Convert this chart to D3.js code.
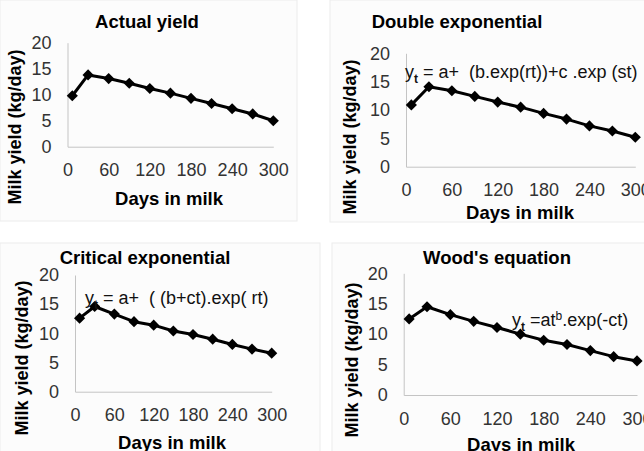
<!DOCTYPE html>
<html>
<head>
<meta charset="utf-8">
<script src="https://cdn.jsdelivr.net/npm/d3@7"></script>
<style>
  body { margin: 0; background: #fff; }
  svg { display: block; font-family: 'Liberation Sans', Arial, sans-serif; }
  .tick text { fill: #333; font-size: 18px; }
</style>
</head>
<body>
<svg id="chart" width="644" height="451"></svg>
<script>
// test days (days in milk)
var days = [7, 30, 60, 90, 120, 150, 180, 210, 240, 270, 300];
// milk yield, kg/day
var actualYield      = [9.8, 13.8, 13.1, 12.2, 11.2, 10.3, 9.3, 8.3, 7.3, 6.3, 5.0];
var doubleExpYield   = [10.9, 14.1, 13.4, 12.4, 11.4, 10.5, 9.4, 8.4, 7.2, 6.3, 5.2];
var criticalExpYield = [12.6, 14.6, 13.3, 12.0, 11.4, 10.4, 9.8, 9.0, 8.1, 7.3, 6.6];
var woodYield        = [12.5, 14.5, 13.2, 12.1, 11.1, 10.0, 9.0, 8.3, 7.3, 6.3, 5.6];

var xTicks = [0, 60, 120, 180, 240, 300];
var yTicks = [0, 5, 10, 15, 20];
var titles = ['Actual yield', 'Double exponential', 'Critical exponential', "Wood's equation"];
var xTitle = 'Days in milk';
var yTitle = 'Milk yield (kg/day)';

// equations as pieces: [text, 'sub'|'sup'|null]
var equations = [
    null,
    [['y', null], ['t', 'sub'], [' = a+  (b.exp(rt))+c .exp (st)', null]],
    [['y', null], ['t', 'sub'], [' = a+  ( (b+ct).exp( rt)', null]],
    [['y', null], ['t', 'sub'], [' =at', null], ['b', 'sup'], ['.exp(-ct)', null]]
];

var series = [actualYield, doubleExpYield, criticalExpYield, woodYield];

// layout of each panel (pixel positions)
var layout = [
    {bg: [0, 0, 297, 221],   x: [67.5, 273.3], y: [146.7, 42.7], title: [147, 21],  xt: [169, 198], yt: [15, 127],  eq: null},
    {bg: [330, 0, 330, 222], x: [406, 635.3],  y: [166.7, 53.3], title: [457, 21],  xt: [520, 212], yt: [350, 137], eq: [405, 78]},
    {bg: [0, 243, 320, 220], x: [75, 271.7],   y: [391.7, 275],  title: [145, 257], xt: [172, 442], yt: [22, 358],  eq: [85, 304]},
    {bg: [332, 243, 330, 220], x: [403.7, 637], y: [395, 273.3], title: [497, 257], xt: [521, 444], yt: [352, 360], eq: [512, 326]}
];

var svg = d3.select('#chart');

layout.forEach(function(L, i){
    var g = svg.append('g').attr('class', 'panel');

    g.append('rect')
        .attr('x', L.bg[0]).attr('y', L.bg[1])
        .attr('width', L.bg[2]).attr('height', L.bg[3])
        .attr('fill', '#fcfcfc')
        .attr('stroke', '#ececec');

    var xScale = d3.scaleLinear().domain([0, 300]).range(L.x);
    var yScale = d3.scaleLinear().domain([0, 20]).range(L.y);

    var xAxis = d3.axisBottom(xScale).tickValues(xTicks).tickSize(0).tickPadding(17);
    var yAxis = d3.axisLeft(yScale).tickValues(yTicks).tickSize(0).tickPadding(16);

    var gx = g.append('g')
        .attr('transform', 'translate(0,' + L.y[0] + ')')
        .call(xAxis);
    var gy = g.append('g')
        .attr('transform', 'translate(' + L.x[0] + ',0)')
        .call(yAxis);
    [gx, gy].forEach(function(a){
        a.select('.domain').attr('stroke', '#c4c4c4').attr('stroke-width', 1);
        a.selectAll('text').style('font-family', "'Liberation Sans', Arial, sans-serif");
    });

    // titles
    g.append('text')
        .attr('x', L.title[0]).attr('y', L.title[1])
        .attr('text-anchor', 'middle')
        .attr('dominant-baseline', 'central')
        .style('font-weight', 'bold')
        .style('font-size', '18.5px')
        .text(titles[i]);

    g.append('text')
        .attr('x', L.xt[0]).attr('y', L.xt[1])
        .attr('text-anchor', 'middle')
        .attr('dominant-baseline', 'central')
        .style('font-weight', 'bold')
        .style('font-size', '18.5px')
        .text(xTitle);

    g.append('text')
        .attr('transform', 'translate(' + L.yt[0] + ',' + L.yt[1] + ') rotate(-90)')
        .attr('text-anchor', 'middle')
        .attr('dominant-baseline', 'central')
        .style('font-weight', 'bold')
        .style('font-size', '18px')
        .text(yTitle);

    // line + diamond markers
    var pts = days.map(function(d, k){ return {day: d, y: series[i][k]}; });
    var line = d3.line()
        .x(function(d){ return xScale(d.day); })
        .y(function(d){ return yScale(d.y); });

    g.append('path')
        .datum(pts)
        .attr('d', line)
        .attr('fill', 'none')
        .attr('stroke', '#000')
        .attr('stroke-width', 3)
        .attr('stroke-linejoin', 'round');

    var diamond = d3.symbol().type(d3.symbolSquare).size(62);
    g.selectAll('.marker')
        .data(pts)
        .enter()
        .append('path')
        .attr('class', 'marker')
        .attr('d', diamond)
        .attr('transform', function(d){
            return 'translate(' + xScale(d.day) + ',' + yScale(d.y) + ') rotate(45)';
        })
        .attr('fill', '#000');

    // equation
    if (equations[i]) {
        var eq = g.append('text')
            .attr('x', L.eq[0]).attr('y', L.eq[1])
            .style('font-size', '18px')
            .attr('fill', '#111');
        var shift = 0;
        equations[i].forEach(function(p){
            var want = p[1] === 'sub' ? 5 : (p[1] === 'sup' ? -6 : 0);
            eq.append('tspan')
                .attr('dy', want - shift)
                .style('font-size', p[1] ? '12px' : null)
                .style('font-weight', p[1] === 'sub' ? 'bold' : null)
                .attr('xml:space', 'preserve')
                .text(p[0]);
            shift = want;
        });
        eq.attr('xml:space', 'preserve');
    }
});
</script>
</body>
</html>
